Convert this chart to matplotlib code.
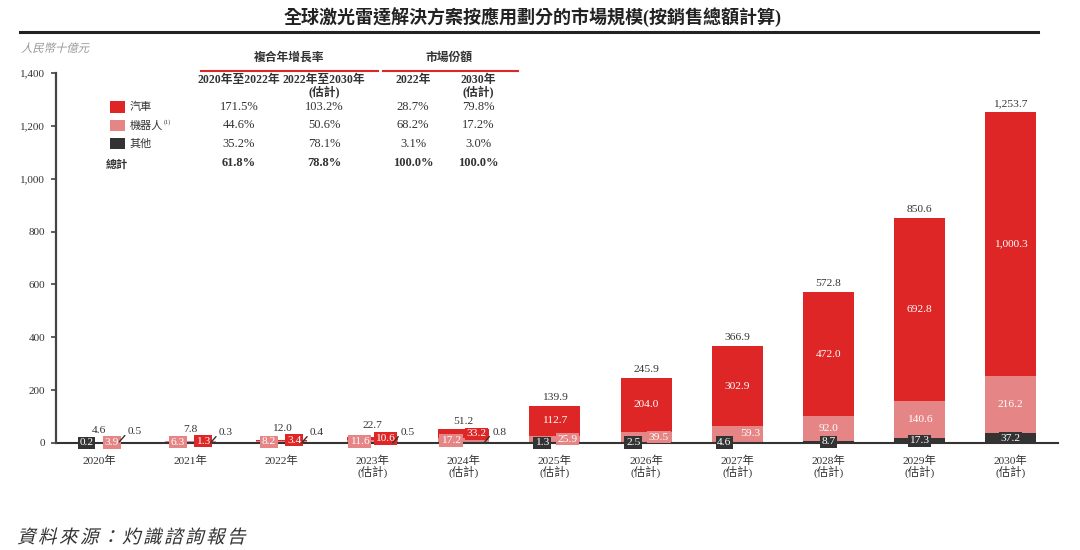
import matplotlib
matplotlib.use("Agg")
import matplotlib.pyplot as plt
from matplotlib.lines import Line2D
from matplotlib.patches import Rectangle, PathPatch
from matplotlib.textpath import TextPath
from matplotlib.font_manager import FontProperties
from matplotlib.transforms import Affine2D
import numpy as np

plt.rcParams['font.family'] = ['Liberation Serif', 'Noto Sans CJK TC']

# 數據（人民幣十億元）
years = ['2020年', '2021年', '2022年', '2023年\n(估計)', '2024年\n(估計)',
         '2025年\n(估計)', '2026年\n(估計)', '2027年\n(估計)', '2028年\n(估計)',
         '2029年\n(估計)', '2030年\n(估計)']
auto = [0.5, 1.3, 3.4, 10.6, 33.2, 112.7, 204.0, 302.9, 472.0, 692.8, 1000.3]
robot = [3.9, 6.3, 8.2, 11.6, 17.2, 25.9, 39.5, 59.3, 92.0, 140.6, 216.2]
other = [0.2, 0.3, 0.4, 0.5, 0.8, 1.3, 2.5, 4.6, 8.7, 17.3, 37.2]
totals = [4.6, 7.8, 12.0, 22.7, 51.2, 139.9, 245.9, 366.9, 572.8, 850.6, 1253.7]

# 表格
series_names = ['汽車', '機器人', '其他']
table_headers = ['2020年至2022年', '2022年至2030年\n(估計)', '2022年', '2030年\n(估計)']
cagr_20_22 = ['171.5%', '44.6%', '35.2%', '61.8%']
cagr_22_30 = ['103.2%', '50.6%', '78.1%', '78.8%']
share_2022 = ['28.7%', '68.2%', '3.1%', '100.0%']
share_2030 = ['79.8%', '17.2%', '3.0%', '100.0%']

RED = '#DE2626'
PINK = '#E68585'
DARK = '#333333'
TXT = '#333333'

W, H = 1080, 550
fig = plt.figure(figsize=(W / 100, H / 100), dpi=100)


def fx(p):
    return p / W


def fy(p):
    return 1 - p / H


def skew_text(s, x0, y0, size, pitch, color):
    # 斜體效果（CJK字體無斜體）
    prop = FontProperties(family='Noto Sans CJK TC')
    for k, ch in enumerate(s):
        tp = TextPath((0, 0), ch, size=size, prop=prop)
        tr = Affine2D().skew_deg(14, 0).translate(x0 + k * pitch, H - y0)
        fig.add_artist(PathPatch(tp, transform=tr, facecolor=color,
                                 edgecolor='none'))


ax = fig.add_axes([fx(55.5), fy(443), (1058 - 55.5) / W, (443 - 73) / H])

x = np.arange(len(years))
other_a = np.array(other)
robot_a = np.array(robot)
auto_a = np.array(auto)
bw = 0.56
ax.bar(x, other_a, bw, color=DARK, zorder=1)
ax.bar(x, robot_a, bw, bottom=other_a, color=PINK, zorder=1)
ax.bar(x, auto_a, bw, bottom=other_a + robot_a, color=RED, zorder=1)

ax.set_xlim(-0.48, 10.52)
ax.set_ylim(0, 1400)
ax.set_yticks(range(0, 1401, 200))
ax.set_yticklabels([f'{v:,}' for v in range(0, 1401, 200)], fontsize=8, color=TXT)
ax.set_xticks(x)
ax.set_xticklabels(years, fontsize=8.2, color=TXT, linespacing=1.0)
ax.tick_params(axis='x', length=0, pad=9)
ax.tick_params(axis='y', length=3.5, width=1.2, color='#444444', pad=4, direction='out')
for s in ['top', 'right']:
    ax.spines[s].set_visible(False)
ax.spines['left'].set_linewidth(1.6)
ax.spines['left'].set_color('#444444')
ax.spines['bottom'].set_linewidth(1.5)
ax.spines['bottom'].set_color('#333333')
ax.spines['bottom'].set_zorder(2)

FS = 8.2


def seg_label(xc, yc, v, bg=None):
    kw = dict(ha='center', va='center', fontsize=FS, color='white', zorder=4)
    if bg is not None:
        kw['bbox'] = dict(boxstyle='square,pad=0.15', facecolor=bg, edgecolor='none')
    ax.text(xc, yc, f'{v:,.1f}', **kw)


def leader_label(xc, yc, v):
    ax.annotate(f'{v:,.1f}', xy=(xc + 0.22, yc), xytext=(6, 7.5),
                textcoords='offset points', ha='left', va='center',
                fontsize=FS, color=TXT, zorder=4,
                arrowprops=dict(arrowstyle='-', color=TXT, lw=1.0,
                                relpos=(0, 0.4), shrinkA=0, shrinkB=0))


for i in range(len(years)):
    c_o = other[i] / 2
    c_r = other[i] + robot[i] / 2
    c_a = other[i] + robot[i] + auto[i] / 2
    if i == 0:
        seg_label(i - 0.14, c_o, other[i], DARK)
        seg_label(i + 0.14, c_r, robot[i], PINK)
        leader_label(i, c_a, auto[i])
    elif i <= 4:
        seg_label(i - 0.14, c_r, robot[i], PINK)
        seg_label(i + 0.14, c_a, auto[i], RED)
        leader_label(i, c_o, other[i])
    elif i <= 7:
        seg_label(i - 0.14, c_o, other[i], DARK)
        seg_label(i + 0.14, c_r, robot[i], PINK)
        seg_label(i, c_a, auto[i])
    else:
        seg_label(i, c_o, other[i], DARK)
        seg_label(i, c_r, robot[i])
        seg_label(i, c_a, auto[i])
    ax.annotate(f'{totals[i]:,.1f}', xy=(i, totals[i]),
                xytext=(0, 8 if i < 4 else 6), textcoords='offset points',
                ha='center', va='center', fontsize=FS, color=TXT)

# 標題
fig.text(fx(533), fy(17), '全球激光雷達解決方案按應用劃分的市場規模(按銷售總額計算)',
         ha='center', va='center', fontsize=13, fontweight='bold', color='#222222')
fig.add_artist(Line2D([fx(20), fx(1038)], [fy(32), fy(32)], lw=2.2, color='#222222'))

skew_text('人民幣十億元', 21, 52, 11.5, 11.3, '#9A9A9A')

# 表格
fig.text(fx(289), fy(58), '複合年增長率', ha='center', va='center',
         fontsize=8.5, fontweight='bold', color=TXT)
fig.text(fx(449), fy(58), '市場份額', ha='center', va='center',
         fontsize=8.5, fontweight='bold', color=TXT)
fig.add_artist(Line2D([fx(201), fx(378)], [fy(71), fy(71)], lw=1.5, color=RED))
fig.add_artist(Line2D([fx(383), fx(518)], [fy(71), fy(71)], lw=1.5, color=RED))

col_x = [239, 324, 413, 478]
row_y = [107, 125.5, 144, 163]
for cx, hdr in zip(col_x, table_headers):
    for k, line in enumerate(hdr.split('\n')):
        fig.text(fx(cx), fy(80 + k * 12), line, ha='center', va='center',
                 fontsize=8.5, fontweight='bold', color=TXT)

for r, (name, col) in enumerate(zip(series_names, [RED, PINK, DARK])):
    fig.add_artist(Rectangle((fx(110), fy(row_y[r] + 5.5)), 15 / W, 11 / H,
                             facecolor=col, edgecolor='none'))
    fig.text(fx(130), fy(row_y[r]), name, ha='left', va='center',
             fontsize=8, color=TXT)
fig.text(fx(164), fy(row_y[1] - 3), '(1)', ha='left', va='center', fontsize=4.5, color=TXT)
fig.text(fx(106), fy(row_y[3] + 2), '總計', ha='left', va='center',
         fontsize=8, fontweight='bold', color=TXT)

for cx, col_vals in zip(col_x, [cagr_20_22, cagr_22_30, share_2022, share_2030]):
    for r, v in enumerate(col_vals):
        fig.text(fx(cx), fy(row_y[r]), v, ha='center', va='center', fontsize=9,
                 color=TXT, fontweight='bold' if r == 3 else 'normal')

skew_text('資料來源：灼識諮詢報告', 17, 543, 18.5, 21, '#333333')

fig.savefig('out.png', dpi=100)
